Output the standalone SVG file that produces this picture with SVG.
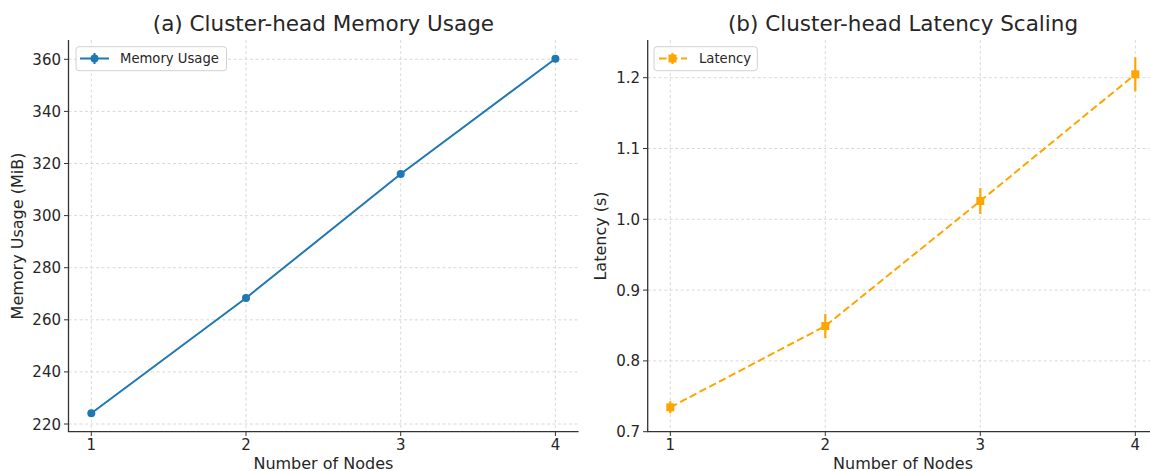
<svg xmlns="http://www.w3.org/2000/svg" width="1150" height="471" viewBox="0 0 1150 471">
<defs>
<style>
text{font-family:"DejaVu Sans","Liberation Sans",sans-serif;fill:#262626}
.title{font-size:21.5px;text-anchor:middle}
.lab{font-size:16px;text-anchor:middle}
.tk{font-size:15px}
.ty{text-anchor:end}
.tx{text-anchor:middle}
.leg{font-size:13.2px}
.grid{stroke:#cfcfcf;stroke-width:0.8;stroke-dasharray:3 2.5;fill:none}
.spine{stroke:#333333;stroke-width:1.3;fill:none}
.tick{stroke:#333333;stroke-width:1}
.blue{stroke:#1f77b4;stroke-width:2;fill:none}
.orange{stroke:#ffa500;stroke-width:2;fill:none;stroke-dasharray:7.5 3.5}
.eb{stroke:#ffa500;stroke-width:2.2}
.ebb{stroke:#1f77b4;stroke-width:2}
.legbox{fill:#ffffff;fill-opacity:0.8;stroke:#d0d0d0;stroke-width:1}
</style>
</defs>
<rect width="1150" height="471" fill="#ffffff"/>

<g id="panel-a">
<g id="a-grid">
<path class="grid" d="M68.5 424H578.6M68.5 371.9H578.6M68.5 319.8H578.6M68.5 267.7H578.6M68.5 215.6H578.6M68.5 163.5H578.6M68.5 111.4H578.6M68.5 59.3H578.6"/>
<path class="grid" d="M91.3 40V431.7M246 40V431.7M400.7 40V431.7M555.4 40V431.7"/>
</g>
<g id="a-axes">
<path class="spine" d="M68.5 40V431.7H578.6"/>
<path class="tick" d="M64 424H68.5M64 371.9H68.5M64 319.8H68.5M64 267.7H68.5M64 215.6H68.5M64 163.5H68.5M64 111.4H68.5M64 59.3H68.5"/>
<path class="tick" d="M91.3 431.7V436M246 431.7V436M400.7 431.7V436M555.4 431.7V436"/>
<g class="tk ty">
<text x="61" y="429.5">220</text>
<text x="61" y="377.4">240</text>
<text x="61" y="325.3">260</text>
<text x="61" y="273.2">280</text>
<text x="61" y="221.1">300</text>
<text x="61" y="169">320</text>
<text x="61" y="116.9">340</text>
<text x="61" y="64.8">360</text>
</g>
<g class="tk tx">
<text x="91.3" y="450">1</text>
<text x="246" y="450">2</text>
<text x="400.7" y="450">3</text>
<text x="555.4" y="450">4</text>
</g>
<text class="title" x="323.4" y="31">(a) Cluster-head Memory Usage</text>
<text class="lab" x="323.4" y="469">Number of Nodes</text>
<text class="lab" transform="translate(23 236) rotate(-90)">Memory Usage (MiB)</text>
</g>
<g id="a-series">
<polyline class="blue" points="91.3,413.3 246,298 400.7,174 555.4,58.7"/>
<g fill="#1f77b4">
<circle cx="91.3" cy="413.3" r="4"/>
<circle cx="246" cy="298" r="4"/>
<circle cx="400.7" cy="174" r="4"/>
<circle cx="555.4" cy="58.7" r="4"/>
</g>
</g>
<g id="a-legend">
<rect class="legbox" x="76" y="46.7" width="150.5" height="24" rx="3"/>
<path class="blue" d="M80 58.5H109"/>
<path class="ebb" d="M94.5 53V64"/>
<circle cx="94.5" cy="58.5" r="4" fill="#1f77b4"/>
<text class="leg" x="120" y="63">Memory Usage</text>
</g>
</g>

<g id="panel-b">
<g id="b-grid">
<path class="grid" d="M647.7 360.9H1150M647.7 290.1H1150M647.7 219.3H1150M647.7 148.5H1150M647.7 77.7H1150"/>
<path class="grid" d="M670.3 40V431.7M825.3 40V431.7M980.3 40V431.7M1135.3 40V431.7"/>
</g>
<g id="b-axes">
<path class="spine" d="M647.7 40V431.7H1150"/>
<path class="tick" d="M643 431.7H647.7M643 360.9H647.7M643 290.1H647.7M643 219.3H647.7M643 148.5H647.7M643 77.7H647.7"/>
<path class="tick" d="M670.3 431.7V436M825.3 431.7V436M980.3 431.7V436M1135.3 431.7V436"/>
<g class="tk ty">
<text x="640" y="437.2">0.7</text>
<text x="640" y="366.4">0.8</text>
<text x="640" y="295.6">0.9</text>
<text x="640" y="224.8">1.0</text>
<text x="640" y="154">1.1</text>
<text x="640" y="83.2">1.2</text>
</g>
<g class="tk tx">
<text x="670.3" y="450">1</text>
<text x="825.3" y="450">2</text>
<text x="980.3" y="450">3</text>
<text x="1135.3" y="450">4</text>
</g>
<text class="title" x="903" y="31">(b) Cluster-head Latency Scaling</text>
<text class="lab" x="903" y="469">Number of Nodes</text>
<text class="lab" transform="translate(606 236) rotate(-90)">Latency (s)</text>
</g>
<g id="b-series">
<polyline class="orange" points="670.3,407.3 825.3,326 980.3,201 1135.3,74.3"/>
<path class="eb" d="M670.3 401.3V413.3M825.3 314V338M980.3 188V214M1135.3 57.3V91.3"/>
<g fill="#ffa500">
<rect x="666.3" y="403.3" width="8" height="8"/>
<rect x="821.3" y="322" width="8" height="8"/>
<rect x="976.3" y="197" width="8" height="8"/>
<rect x="1131.3" y="70.3" width="8" height="8"/>
</g>
</g>
<g id="b-legend">
<rect class="legbox" x="654" y="46.7" width="103.3" height="24" rx="3"/>
<path class="orange" d="M659 58.5H687"/>
<path class="eb" d="M672.5 53V64"/>
<rect x="668.5" y="54.5" width="8" height="8" fill="#ffa500"/>
<text class="leg" x="699" y="63">Latency</text>
</g>
</g>
</svg>
